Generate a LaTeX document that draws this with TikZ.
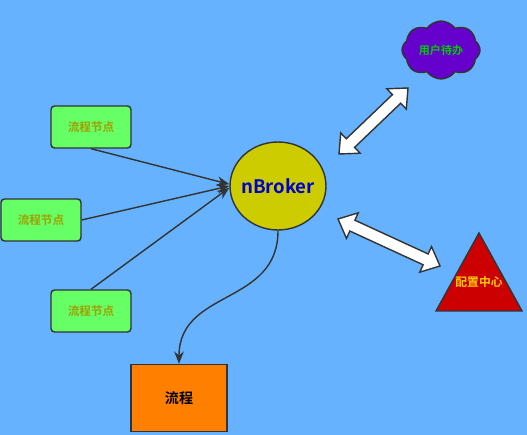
\documentclass[tikz,border=0pt]{standalone}
\usepackage{fontspec}
\setmainfont{Noto Sans CJK SC}[BoldFont={Noto Sans CJK SC Bold}]
\usetikzlibrary{arrows.meta,shapes.geometric,shapes.symbols,calc}

\definecolor{bgblue}{RGB}{102,178,255}
\definecolor{nodegreen}{RGB}{102,255,102}
\definecolor{nodetext}{RGB}{160,160,0}
\definecolor{brokerfill}{RGB}{204,204,0}
\definecolor{cloudfill}{RGB}{102,0,204}
\definecolor{trifill}{RGB}{204,0,0}
\definecolor{flowfill}{RGB}{255,128,0}
\definecolor{edge}{RGB}{51,51,51}

% white block arrow with a head at each end
\newcommand{\dblarrow}[2]{%
	\filldraw[fill=white, draw=edge, line width=0.8pt, line join=miter]
	(#1) -- ($(#1)!9pt!(#2)!8pt!90:(#2)$) -- ($(#1)!9pt!(#2)!3.4pt!90:(#2)$)
	-- ($(#2)!9pt!(#1)!3.4pt!-90:(#1)$) -- ($(#2)!9pt!(#1)!8pt!-90:(#1)$)
	-- (#2) -- ($(#2)!9pt!(#1)!8pt!90:(#1)$) -- ($(#2)!9pt!(#1)!3.4pt!90:(#1)$)
	-- ($(#1)!9pt!(#2)!3.4pt!-90:(#2)$) -- ($(#1)!9pt!(#2)!8pt!-90:(#2)$) -- cycle;}

\begin{document}
\begin{tikzpicture}[x=0.02cm, y=-0.02cm, line width=0.8pt,
	step node/.style={rectangle, rounded corners=2pt, draw=edge, fill=nodegreen, text=nodetext,
		minimum width=1.6cm, minimum height=0.84cm, font=\fontsize{6.6}{8}\selectfont\bfseries},
	link/.style={draw=edge, -{Stealth[length=7pt,width=5.5pt]}}]
	%background
	\fill[bgblue] (0,0) rectangle (527,435);
	\useasboundingbox (0,0) rectangle (527,435);

	%flow step nodes
	\node[step node] (s1) at (91,127) {流程节点};
	\node[step node] (s2) at (41,220) {流程节点};
	\node[step node] (s3) at (91,311) {流程节点};

	%broker
	\node[ellipse, draw=edge, fill=brokerfill, text={rgb,255:red,0;green,0;blue,204}, inner sep=0pt,
		minimum width=1.92cm, minimum height=1.76cm, font=\fontsize{10.6}{12}\selectfont\bfseries] (broker) at (278,186) {\makebox[1.2cm]{nBroker}};

	%todo cloud
	\node[cloud, cloud puffs=8, cloud puff arc=110, aspect=1.4, draw=edge, fill=cloudfill,
		text={rgb,255:red,0;green,204;blue,0}, minimum width=1.56cm, minimum height=1.16cm,
		inner sep=0pt, font=\fontsize{6.3}{8}\selectfont\bfseries] (todo) at (441,50) {用户待办};

	%config centre
	\filldraw[fill=trifill, draw=edge] (479,233) -- (522,311) -- (436,311) -- cycle;
	\node[text={rgb,255:red,255;green,204;blue,0}, font=\fontsize{6.7}{8}\selectfont\bfseries] (config) at (479,282) {配置中心};

	%process
	\node[rectangle, draw=edge, fill=flowfill, minimum width=1.92cm, minimum height=1.34cm,
		font=\fontsize{8}{10}\selectfont\bfseries] (flow) at (179,398) {流程};

	%steps -> broker
	\draw[link] (s1.south) -- ([yshift=1pt]broker.west);
	\draw[link] (s2.east) -- (broker.west);
	\draw[link] (s3.north) -- ([yshift=-1pt]broker.west);

	%broker -> process
	\draw[link] (broker.south) .. controls +(0,75) and +(0,-75) .. (flow.north);

	%block arrows
	\coordinate (a1s) at (339,154);
	\coordinate (a1e) at (408,88);
	\coordinate (a2s) at (338,219);
	\coordinate (a2e) at (440,266);
	\dblarrow{a1s}{a1e}
	\dblarrow{a2s}{a2e}
\end{tikzpicture}
\end{document}
